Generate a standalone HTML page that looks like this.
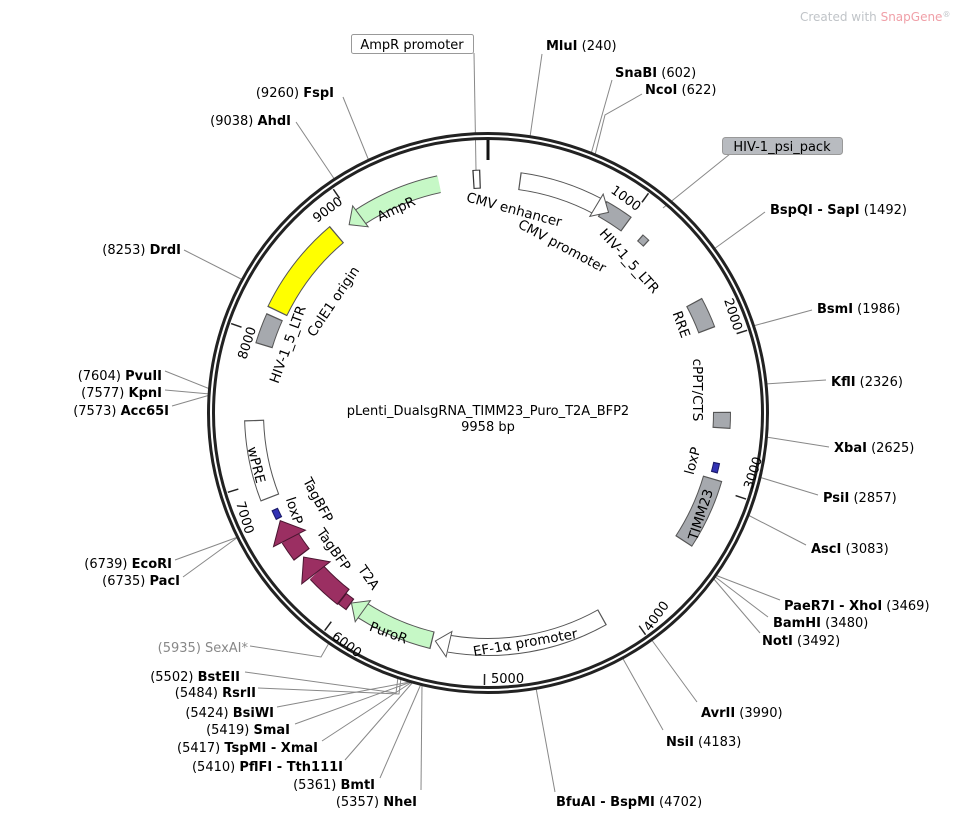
<!DOCTYPE html>
<html><head><meta charset="utf-8">
<style>
html,body{margin:0;padding:0;background:#fff;}
svg{display:block;}
text{font-family:"DejaVu Sans","Liberation Sans",sans-serif;}
.e{font-size:13px;fill:#000;}
.b{font-weight:bold;}
.f{font-size:13.5px;fill:#000;}
.l{stroke:#888;stroke-width:1;fill:none;}
</style></head>
<body>
<svg width="977" height="821" viewBox="0 0 977 821" xmlns="http://www.w3.org/2000/svg">
<rect width="977" height="821" fill="#fff"/>
<text x="800" y="21" font-size="12" fill="#c0c4c8">Created with <tspan fill="#f0a0a8">SnapGene</tspan><tspan font-size="8" dy="-4">®</tspan></text>

<g class="l">
<polyline points="530,137 542,54"/>
<polyline points="591,154 612,80"/>
<polyline points="595,155 605,115 642,94"/>
<polyline points="663,208 730,154"/>
<polyline points="714,249 765,212"/>
<polyline points="753,326 812,310"/>
<polyline points="765,384 826,380"/>
<polyline points="766,437 829,447"/>
<polyline points="759,477 818,495"/>
<polyline points="748,515 806,545"/>
<polyline points="715,575 780,600"/>
<polyline points="714,576 768,617"/>
<polyline points="713,578 760,633"/>
<polyline points="651,639 697,702"/>
<polyline points="622,657 663,730"/>
<polyline points="536,688 555,792"/>
<polyline points="422,684 421,790"/>
<polyline points="421,684 380,778"/>
<polyline points="413,682 345,760"/>
<polyline points="412,682 322,741"/>
<polyline points="411,682 295,724"/>
<polyline points="410,682 277,707"/>
<polyline points="401,678 399,694 258,688"/>
<polyline points="398,677 396,693 245,672"/>
<polyline points="250,646 321,657 329,643"/>
<polyline points="238,537 175,560"/>
<polyline points="238,537 183,577"/>
<polyline points="210,389 165,371"/>
<polyline points="210,394 165,390"/>
<polyline points="210,395 172,406"/>
<polyline points="243,280 184,250"/>
<polyline points="335,180 296,122"/>
<polyline points="369,161 343,97"/>
<polyline points="474,53 476,170"/>
</g>

<circle cx="488" cy="413" r="277" fill="none" stroke="#222" stroke-width="8"/>
<circle cx="488" cy="413" r="277" fill="none" stroke="#fff" stroke-width="2"/>
<line x1="488" y1="140" x2="488" y2="160" stroke="#111" stroke-width="3"/>

<g stroke="#222" stroke-width="1.5">
<line x1="488" y1="141" x2="488" y2="152" transform="rotate(36.15 488 413)"/>
<line x1="488" y1="141" x2="488" y2="152" transform="rotate(72.3 488 413)"/>
<line x1="488" y1="141" x2="488" y2="152" transform="rotate(108.45 488 413)"/>
<line x1="488" y1="141" x2="488" y2="152" transform="rotate(144.6 488 413)"/>
<line x1="488" y1="141" x2="488" y2="152" transform="rotate(180.75 488 413)"/>
<line x1="488" y1="141" x2="488" y2="152" transform="rotate(216.9 488 413)"/>
<line x1="488" y1="141" x2="488" y2="152" transform="rotate(253.05 488 413)"/>
<line x1="488" y1="141" x2="488" y2="152" transform="rotate(289.2 488 413)"/>
<line x1="488" y1="141" x2="488" y2="152" transform="rotate(325.35 488 413)"/>
</g>
<g font-size="13" fill="#000">
<text transform="translate(610,192) rotate(36)">1000</text>
<text transform="translate(724,300) rotate(72)">2000</text>
<text transform="translate(752,490) rotate(-72)">3000</text>
<text transform="translate(650,632) rotate(-54)">4000</text>
<text x="491" y="683">5000</text>
<text transform="translate(331,638) rotate(37)">6000</text>
<text transform="translate(236,503) rotate(73)">7000</text>
<text transform="translate(246,360) rotate(-72)">8000</text>
<text transform="translate(317,223) rotate(-37)">9000</text>
</g>

<g fill="none">
<circle cx="488" cy="413" r="234" pathLength="360" stroke="#333" stroke-width="19" stroke-dasharray="1.9 360" transform="rotate(266.3 488 413)"/>
<circle cx="488" cy="413" r="234" pathLength="360" stroke="#fff" stroke-width="17" stroke-dasharray="1.3 360" transform="rotate(266.6 488 413)"/>
<circle cx="488" cy="413" r="234" pathLength="360" stroke="#555" stroke-width="18" stroke-dasharray="20.2 360" transform="rotate(-82.3 488 413)"/>
<circle cx="488" cy="413" r="234" pathLength="360" stroke="#fff" stroke-width="16" stroke-dasharray="20 360" transform="rotate(-82 488 413)"/>
<circle cx="488" cy="413" r="234" pathLength="360" stroke="#555" stroke-width="18" stroke-dasharray="7.1 360" transform="rotate(-60.8 488 413)"/>
<circle cx="488" cy="413" r="234" pathLength="360" stroke="#a6a9ae" stroke-width="16" stroke-dasharray="6.5 360" transform="rotate(-60.5 488 413)"/>
<circle cx="488" cy="413" r="232" pathLength="360" stroke="#555" stroke-width="9" stroke-dasharray="2.2 360" transform="rotate(-49.1 488 413)"/>
<circle cx="488" cy="413" r="232" pathLength="360" stroke="#a6a9ae" stroke-width="7" stroke-dasharray="1.6 360" transform="rotate(-48.8 488 413)"/>
<circle cx="488" cy="413" r="234" pathLength="360" stroke="#555" stroke-width="18" stroke-dasharray="7.6 360" transform="rotate(-28.3 488 413)"/>
<circle cx="488" cy="413" r="234" pathLength="360" stroke="#a6a9ae" stroke-width="16" stroke-dasharray="7 360" transform="rotate(-28 488 413)"/>
<circle cx="488" cy="413" r="234" pathLength="360" stroke="#555" stroke-width="18" stroke-dasharray="4.1 360" transform="rotate(-0.3 488 413)"/>
<circle cx="488" cy="413" r="234" pathLength="360" stroke="#a6a9ae" stroke-width="16" stroke-dasharray="3.5 360" transform="rotate(0 488 413)"/>
<circle cx="488" cy="413" r="234" pathLength="360" stroke="#1a1a6a" stroke-width="7" stroke-dasharray="2.6 360" transform="rotate(12.2 488 413)"/>
<circle cx="488" cy="413" r="234" pathLength="360" stroke="#3232b4" stroke-width="5" stroke-dasharray="2 360" transform="rotate(12.5 488 413)"/>
<circle cx="488" cy="413" r="234" pathLength="360" stroke="#555" stroke-width="20" stroke-dasharray="17.1 360" transform="rotate(16.2 488 413)"/>
<circle cx="488" cy="413" r="234" pathLength="360" stroke="#a6a9ae" stroke-width="18" stroke-dasharray="16.5 360" transform="rotate(16.5 488 413)"/>
<circle cx="488" cy="413" r="234" pathLength="360" stroke="#555" stroke-width="18" stroke-dasharray="38.8 360" transform="rotate(60.7 488 413)"/>
<circle cx="488" cy="413" r="234" pathLength="360" stroke="#fff" stroke-width="16" stroke-dasharray="38.6 360" transform="rotate(61 488 413)"/>
<circle cx="488" cy="413" r="234" pathLength="360" stroke="#555" stroke-width="18" stroke-dasharray="18.8 360" transform="rotate(103.7 488 413)"/>
<circle cx="488" cy="413" r="234" pathLength="360" stroke="#c6f8c6" stroke-width="16" stroke-dasharray="18.6 360" transform="rotate(104 488 413)"/>
<circle cx="488" cy="413" r="236" pathLength="360" stroke="#4a1530" stroke-width="14" stroke-dasharray="2.6 360" transform="rotate(125.7 488 413)"/>
<circle cx="488" cy="413" r="236" pathLength="360" stroke="#9b2f62" stroke-width="12" stroke-dasharray="2 360" transform="rotate(126 488 413)"/>
<circle cx="488" cy="413" r="234" pathLength="360" stroke="#4a1530" stroke-width="20" stroke-dasharray="8.8 360" transform="rotate(128.1 488 413)"/>
<circle cx="488" cy="413" r="234" pathLength="360" stroke="#9b2f62" stroke-width="18" stroke-dasharray="8.6 360" transform="rotate(128.4 488 413)"/>
<circle cx="488" cy="413" r="234" pathLength="360" stroke="#4a1530" stroke-width="20" stroke-dasharray="5 360" transform="rotate(142.7 488 413)"/>
<circle cx="488" cy="413" r="234" pathLength="360" stroke="#9b2f62" stroke-width="18" stroke-dasharray="4.8 360" transform="rotate(143 488 413)"/>
<circle cx="488" cy="413" r="234" pathLength="360" stroke="#1a1a6a" stroke-width="7" stroke-dasharray="2.6 360" transform="rotate(153.2 488 413)"/>
<circle cx="488" cy="413" r="234" pathLength="360" stroke="#3232b4" stroke-width="5" stroke-dasharray="2 360" transform="rotate(153.5 488 413)"/>
<circle cx="488" cy="413" r="234" pathLength="360" stroke="#555" stroke-width="20" stroke-dasharray="19.6 360" transform="rotate(158.7 488 413)"/>
<circle cx="488" cy="413" r="234" pathLength="360" stroke="#fff" stroke-width="18" stroke-dasharray="19 360" transform="rotate(159 488 413)"/>
<circle cx="488" cy="413" r="234" pathLength="360" stroke="#555" stroke-width="18" stroke-dasharray="7.6 360" transform="rotate(196.7 488 413)"/>
<circle cx="488" cy="413" r="234" pathLength="360" stroke="#a6a9ae" stroke-width="16" stroke-dasharray="7 360" transform="rotate(197 488 413)"/>
<circle cx="488" cy="413" r="234" pathLength="360" stroke="#555" stroke-width="22" stroke-dasharray="24.1 360" transform="rotate(205.7 488 413)"/>
<circle cx="488" cy="413" r="234" pathLength="360" stroke="#ffff00" stroke-width="20" stroke-dasharray="23.5 360" transform="rotate(206 488 413)"/>
<circle cx="488" cy="413" r="234" pathLength="360" stroke="#555" stroke-width="18" stroke-dasharray="21.2 360" transform="rotate(236.7 488 413)"/>
<circle cx="488" cy="413" r="234" pathLength="360" stroke="#c6f8c6" stroke-width="16" stroke-dasharray="21 360" transform="rotate(237 488 413)"/>
</g>

<g stroke="#555" stroke-width="1" stroke-linejoin="miter">
<polygon points="474,166 474,192 488,179" fill="#fff" transform="rotate(31 488 413)"/>
<polygon points="474,166 474,192 488,179" fill="#fff" transform="rotate(193 488 413)"/>
<polygon points="474,166 474,192 488,179" fill="#c6f8c6" transform="rotate(215.7 488 413)"/>
<polygon points="468,161 468,197 488,179" fill="#9b2f62" stroke="#4a1530" transform="rotate(232 488 413)"/>
<polygon points="468,161 468,197 488,179" fill="#9b2f62" stroke="#4a1530" transform="rotate(242.6 488 413)"/>
<polygon points="502,166 502,192 488,179" fill="#c6f8c6" transform="rotate(323.6 488 413)"/>
</g>

<g class="f">
<text text-anchor="middle" transform="translate(513,214) rotate(15)">CMV enhancer</text>
<text text-anchor="middle" transform="translate(560,250) rotate(28)">CMV promoter</text>
<text text-anchor="middle" transform="translate(626,264) rotate(48)">HIV-1_5_LTR</text>
<text text-anchor="middle" transform="translate(677,326) rotate(70)">RRE</text>
<text text-anchor="middle" transform="translate(693,390) rotate(90)">cPPT/CTS</text>
<text text-anchor="middle" transform="translate(697,462) rotate(-75)">loxP</text>
<text text-anchor="middle" transform="translate(705,516) rotate(-72)">TIMM23</text>
<text text-anchor="middle" transform="translate(526,647) rotate(-10)">EF-1α promoter</text>
<text text-anchor="middle" transform="translate(387,637) rotate(20)">PuroR</text>
<text text-anchor="middle" transform="translate(365,580) rotate(55)">T2A</text>
<text text-anchor="middle" transform="translate(330,552) rotate(55)">TagBFP</text>
<text text-anchor="middle" transform="translate(314,502) rotate(62)">TagBFP</text>
<text text-anchor="middle" transform="translate(290,512) rotate(72)">loxP</text>
<text text-anchor="middle" transform="translate(252,466) rotate(76)">wPRE</text>
<text text-anchor="middle" transform="translate(292,346) rotate(-70)">HIV-1_5_LTR</text>
<text text-anchor="middle" transform="translate(337,304) rotate(-56)">ColE1 origin</text>
<text text-anchor="middle" transform="translate(398,213) rotate(-25)">AmpR</text>
</g>

<rect x="351.5" y="34.5" width="122" height="19" rx="2" fill="#fff" stroke="#999"/>
<text x="412" y="49" text-anchor="middle" font-size="13" fill="#000">AmpR promoter</text>
<rect x="722.5" y="137.5" width="120" height="17" rx="3" fill="#b8bbc0" stroke="#999"/>
<text x="782" y="151" text-anchor="middle" font-size="13" fill="#000">HIV-1_psi_pack</text>

<text x="488" y="415" text-anchor="middle" font-size="13">pLenti_DualsgRNA_TIMM23_Puro_T2A_BFP2</text>
<text x="488" y="431" text-anchor="middle" font-size="13">9958 bp</text>

<g class="e">
<text x="546" y="50"><tspan class="b">MluI</tspan>  (240)</text>
<text x="615" y="77"><tspan class="b">SnaBI</tspan>  (602)</text>
<text x="645" y="94"><tspan class="b">NcoI</tspan>  (622)</text>
<text x="770" y="214"><tspan class="b">BspQI - SapI</tspan>  (1492)</text>
<text x="817" y="313"><tspan class="b">BsmI</tspan>  (1986)</text>
<text x="831" y="386"><tspan class="b">KflI</tspan>  (2326)</text>
<text x="834" y="452"><tspan class="b">XbaI</tspan>  (2625)</text>
<text x="823" y="502"><tspan class="b">PsiI</tspan>  (2857)</text>
<text x="811" y="553"><tspan class="b">AscI</tspan>  (3083)</text>
<text x="784" y="610"><tspan class="b">PaeR7I - XhoI</tspan>  (3469)</text>
<text x="773" y="627"><tspan class="b">BamHI</tspan>  (3480)</text>
<text x="762" y="645"><tspan class="b">NotI</tspan>  (3492)</text>
<text x="701" y="717"><tspan class="b">AvrII</tspan>  (3990)</text>
<text x="666" y="746"><tspan class="b">NsiI</tspan>  (4183)</text>
<text x="556" y="806"><tspan class="b">BfuAI - BspMI</tspan>  (4702)</text>
</g>
<g class="e" text-anchor="end">
<text x="334" y="97">(9260)  <tspan class="b">FspI</tspan></text>
<text x="291" y="125">(9038)  <tspan class="b">AhdI</tspan></text>
<text x="181" y="254">(8253)  <tspan class="b">DrdI</tspan></text>
<text x="162" y="380">(7604)  <tspan class="b">PvuII</tspan></text>
<text x="162" y="397">(7577)  <tspan class="b">KpnI</tspan></text>
<text x="169" y="415">(7573)  <tspan class="b">Acc65I</tspan></text>
<text x="172" y="568">(6739)  <tspan class="b">EcoRI</tspan></text>
<text x="180" y="585">(6735)  <tspan class="b">PacI</tspan></text>
<text x="248" y="652" fill="#888">(5935)  <tspan fill="#888">SexAI*</tspan></text>
<text x="240" y="681">(5502)  <tspan class="b">BstEII</tspan></text>
<text x="256" y="697">(5484)  <tspan class="b">RsrII</tspan></text>
<text x="274" y="717">(5424)  <tspan class="b">BsiWI</tspan></text>
<text x="290" y="734">(5419)  <tspan class="b">SmaI</tspan></text>
<text x="318" y="752">(5417)  <tspan class="b">TspMI - XmaI</tspan></text>
<text x="343" y="771">(5410)  <tspan class="b">PflFI - Tth111I</tspan></text>
<text x="375" y="789">(5361)  <tspan class="b">BmtI</tspan></text>
<text x="417" y="806">(5357)  <tspan class="b">NheI</tspan></text>
</g>
</svg>
</body></html>
